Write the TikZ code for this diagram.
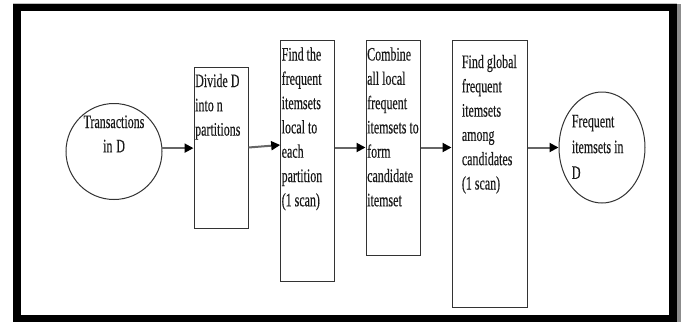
\documentclass[tikz,border=0pt]{standalone}
\usepackage{fontspec}
\setmainfont{Liberation Serif}[FakeStretch=0.63, FakeBold=0.3]
\usetikzlibrary{arrows.meta,shapes.geometric}
\newcommand\dgtxtfont{\fontsize{19}{24.3}\selectfont}
\newcommand\dgspace{\spaceskip=3pt plus 1pt minus 1pt\relax}
\begin{document}
\begin{tikzpicture}[x=1pt,y=-1pt,
  box/.style={draw=black!80, line width=1pt, inner sep=0pt, rectangle},
  txt/.style={font=\dgtxtfont, inner sep=0pt, text width=90pt, align=left, anchor=base west, text=black!90, execute at begin node=\dgspace},
  arr/.style={draw=black!60, line width=2pt, -{Triangle[length=9pt,width=9pt,color=black]}},
]
\useasboundingbox (0,0) rectangle (681,322);
% outer frame
\fill[black!25] (13,2.5) rectangle (677,4);
\fill[black!45] (677,4) rectangle (681,322);
\draw[line width=7.5pt] (16.75,7.5) rectangle (673,318.5);

% shapes
\node[circle, draw=black!80, line width=1pt, minimum size=96pt, inner sep=0pt] (t) at (114,151.5) {};
\node[box, minimum width=54pt, minimum height=161pt] (d) at (221,147.5) {};
\node[box, minimum width=53.3pt, minimum height=241pt] (f) at (307.35,160.5) {};
\node[box, minimum width=54pt, minimum height=215pt] (c) at (393,147.5) {};
\node[box, minimum width=75pt, minimum height=266.5pt] (g) at (489.5,173.75) {};
\node[ellipse, draw=black!80, line width=1pt, minimum width=86pt, minimum height=111pt, inner sep=0pt] (e) at (602,147.5) {};

% texts
\node[txt, align=center, anchor=base] (tt) at (114,128) {Transactions\\in D};
\node[txt] (dt) at (195,87) {Divide D\\into n\\partitions};
\node[txt] (ft) at (281.5,60.5) {Find the\\frequent\\itemsets\\local to\\each\\partition\\(1 scan)};
\node[txt] (ct) at (367,60.5) {Combine\\all local\\frequent\\itemsets to\\form\\candidate\\itemset};
\node[txt] (gt) at (461.7,68) {Find global\\frequent\\itemsets\\among\\candidates\\(1 scan)};
\node[txt] (et) at (571.7,127.3) {Frequent\\[1.5pt]itemsets in\\[1.5pt]D};

% connectors
\draw[arr] (t.4) -- (t.4 -| d.west);
\draw[arr] (d.east) -- ([yshift=15.5pt]f.west);
\draw[arr] (f.east |- c.west) -- (c.west);
\draw[arr] (c.east) -- (c.east -| g.west);
\draw[arr] (g.east |- e.west) -- (e.west);
\end{tikzpicture}
\end{document}
